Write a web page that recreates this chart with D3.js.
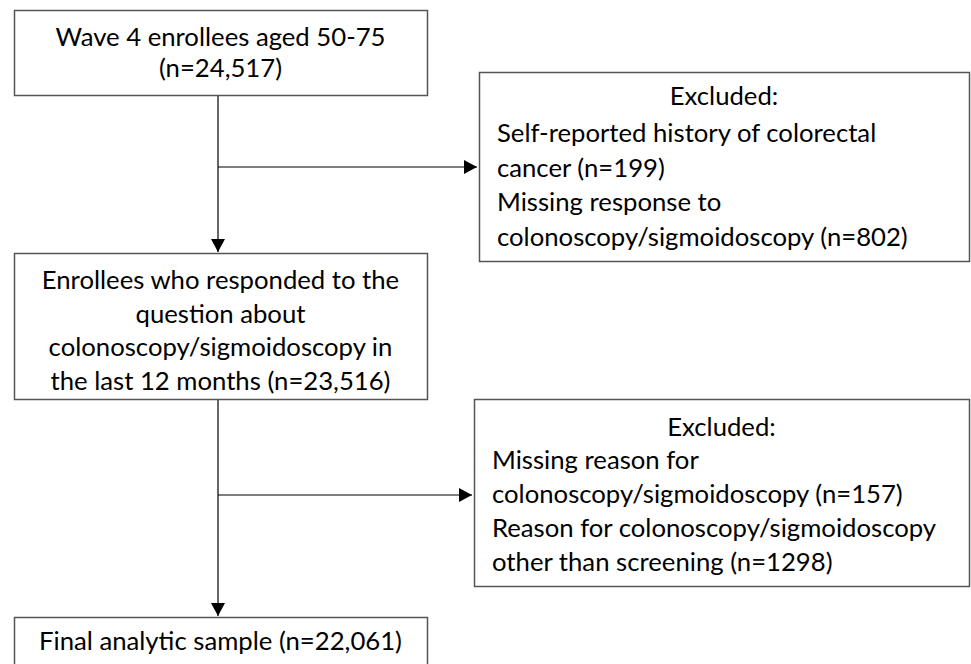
<!DOCTYPE html>
<html>
<head>
<meta charset="utf-8">
<script src="https://cdn.jsdelivr.net/npm/d3@7"></script>
<style>
  body { margin: 0; background: #fff; }
  svg { display: block; }
  text { font-family: Lato, "Open Sans", sans-serif; font-size: 25.7px; fill: #000; }
</style>
</head>
<body>
<svg></svg>
<script>
// flow steps (left column), each line as it is broken in the boxes
const stepLines = [
  ['Wave 4 enrollees aged 50-75', '(n=24,517)'],
  ['Enrollees who responded to the', 'question about', 'colonoscopy/sigmoidoscopy in', 'the last 12 months (n=23,516)'],
  ['Final analytic sample (n=22,061)']
];
const stepCounts = [24517, 23516, 22061];

// exclusion boxes (right column)
const exclusionTitle = 'Excluded:';
const exclusionLines = [
  ['Self-reported history of colorectal', 'cancer (n=199)', 'Missing response to', 'colonoscopy/sigmoidoscopy (n=802)'],
  ['Missing reason for', 'colonoscopy/sigmoidoscopy (n=157)', 'Reason for colonoscopy/sigmoidoscopy', 'other than screening (n=1298)']
];

const width = 971;
const height = 664;
const svg = d3.select('svg').attr('width', width).attr('height', height);

// box geometry
const stepBoxes = [
  { x0: 14, y0: 10, x1: 427, y1: 95, first: 46, lh: 31 },
  { x0: 14, y0: 253, x1: 427, y1: 399, first: 289, lh: 33.7 },
  { x0: 14, y0: 617, x1: 427, y1: 690, first: 650, lh: 34 }
];
const exclBoxes = [
  { x0: 479, y0: 72, x1: 969, y1: 261, title: 105, first: 142, lh: 34.5, arrowY: 167 },
  { x0: 474, y0: 399, x1: 969, y1: 586, title: 436, first: 469, lh: 34, arrowY: 495 }
];
const spineX = 218;

// one arrowhead, drawn along the line direction
svg.append('defs').append('marker')
  .attr('id', 'head')
  .attr('viewBox', '0 0 13 14')
  .attr('refX', 13).attr('refY', 7)
  .attr('markerWidth', 13).attr('markerHeight', 14)
  .attr('markerUnits', 'userSpaceOnUse')
  .attr('orient', 'auto')
  .append('path').attr('d', 'M0,0 L13,7 L0,14 Z').attr('fill', '#000');

// connectors first so boxes sit on top
const links = svg.append('g').attr('class', 'links')
  .attr('stroke', '#000').attr('stroke-width', 1.2).attr('fill', 'none');

stepBoxes.slice(0, -1).forEach((b, i) => {
  links.append('line')
    .attr('x1', spineX).attr('y1', b.y1)
    .attr('x2', spineX).attr('y2', stepBoxes[i + 1].y0 - 1)
    .attr('marker-end', 'url(#head)');
});
exclBoxes.forEach((b) => {
  links.append('line')
    .attr('x1', spineX).attr('y1', b.arrowY)
    .attr('x2', b.x0 - 2).attr('y2', b.arrowY)
    .attr('marker-end', 'url(#head)');
});

// left column boxes with centred text
const steps = svg.append('g').attr('class', 'steps')
  .selectAll('g')
  .data(stepLines.map((lines, i) => ({ lines, count: stepCounts[i], box: stepBoxes[i] })))
  .enter()
  .append('g');

steps.append('rect')
  .attr('x', (d) => d.box.x0 + 0.5)
  .attr('y', (d) => d.box.y0 + 0.5)
  .attr('width', (d) => d.box.x1 - d.box.x0)
  .attr('height', (d) => d.box.y1 - d.box.y0)
  .attr('fill', '#fff')
  .attr('stroke', '#555')
  .attr('stroke-width', 1.5);

steps.each(function(d) {
  const cx = (d.box.x0 + d.box.x1) / 2;
  d3.select(this).selectAll('text')
    .data(d.lines)
    .enter()
    .append('text')
    .attr('x', cx)
    .attr('y', (t, j) => d.box.first + j * d.box.lh)
    .attr('text-anchor', 'middle')
    .text((t) => t);
});

// right column exclusion boxes
const excl = svg.append('g').attr('class', 'exclusions')
  .selectAll('g')
  .data(exclusionLines.map((lines, i) => ({ lines, box: exclBoxes[i] })))
  .enter()
  .append('g');

excl.append('rect')
  .attr('x', (d) => d.box.x0 + 0.5)
  .attr('y', (d) => d.box.y0 + 0.5)
  .attr('width', (d) => d.box.x1 - d.box.x0)
  .attr('height', (d) => d.box.y1 - d.box.y0)
  .attr('fill', '#fff')
  .attr('stroke', '#555')
  .attr('stroke-width', 1.5);

excl.append('text')
  .attr('x', (d) => (d.box.x0 + d.box.x1) / 2)
  .attr('y', (d) => d.box.title)
  .attr('text-anchor', 'middle')
  .text(exclusionTitle);

excl.each(function(d) {
  d3.select(this).selectAll('text.item')
    .data(d.lines)
    .enter()
    .append('text')
    .attr('class', 'item')
    .attr('x', d.box.x0 + 18)
    .attr('y', (t, j) => d.box.first + j * d.box.lh)
    .text((t) => t);
});
</script>
</body>
</html>
